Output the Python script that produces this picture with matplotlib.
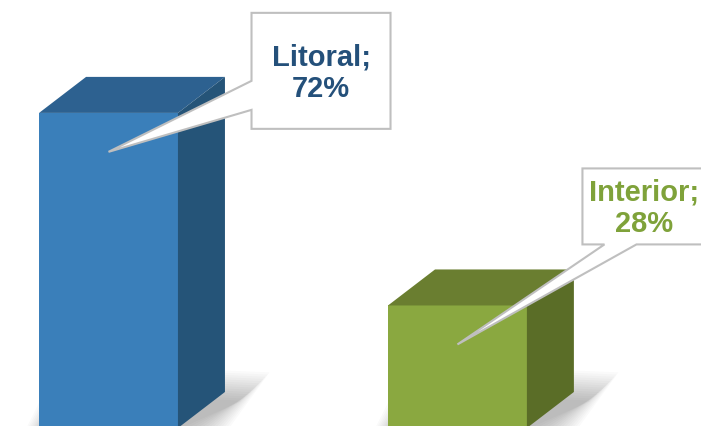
import matplotlib
matplotlib.use("Agg")
import matplotlib.pyplot as plt
from matplotlib.patches import Polygon

# data
categories = ["Litoral", "Interior"]
values = [72, 28]
labels = ["Litoral;\n72%", "Interior;\n28%"]

front_colors = ["#3a7fba", "#8aa840"]
top_colors = ["#2d6190", "#6a7e30"]
side_colors = ["#255478", "#5a6d27"]
text_colors = ["#24507a", "#7fa23a"]

fig = plt.figure(figsize=(7.01, 4.26), dpi=100)
ax = fig.add_axes([0, 0, 1, 1])
ax.set_xlim(-0.311, 1.698)
ax.set_ylim(0.46, 97.8)
ax.axis("off")

width = 0.398
dx = 0.1347   # depth in x units
dy = 8.23     # depth in y units

xs = list(range(len(values)))

for x, v, fc, tc, sc in zip(xs, values, front_colors, top_colors, side_colors):
    x0 = x - width / 2
    x1 = x + width / 2
    # soft shadow around the foot of the bar
    for k in range(14):
        e = 0.006 * k
        ey = 0.5 * k
        pts = [(x0 - e, -ey), (x1 + e + 0.01, -ey),
               (x1 + dx + e + 0.05, dy + ey - 2), (x0 + dx - e, dy + ey)]
        ax.add_patch(Polygon(pts, closed=True, facecolor="#000000",
                             edgecolor="none", alpha=0.018, zorder=1))
    ax.bar(x, v, width=width, color=fc, zorder=3)
    top = [(x0, v), (x1, v), (x1 + dx, v + dy), (x0 + dx, v + dy)]
    side = [(x1, 0), (x1 + dx, dy), (x1 + dx, v + dy), (x1, v)]
    ax.add_patch(Polygon(top, closed=True, facecolor=tc, edgecolor="none", zorder=3))
    ax.add_patch(Polygon(side, closed=True, facecolor=sc, edgecolor="none", zorder=3))

# callouts, offsets in pixels from the pointer tip
to_px = ax.transData
to_data = ax.transData.inverted()

callouts = [
    # box left, right, bottom, top ; wedge side and base ; text shift
    dict(box=(143, 282, 23, 139), wedge=("left", 42, 71), shift=0),
    dict(box=(125, 264, 100, 176), wedge=("bottom", 147, 179), shift=-8),
]

for x, v, lab, col, c in zip(xs, values, labels, text_colors, callouts):
    tx, ty = to_px.transform((x, v - 8.9))
    l, r, b, t = c["box"]
    side_, w1, w2 = c["wedge"]
    if side_ == "left":
        pts = [(l, t), (r, t), (r, b), (l, b), (l, w1), (0, 0), (l, w2)]
    else:
        pts = [(l, t), (r, t), (r, b), (w2, b), (0, 0), (w1, b), (l, b)]
    pts = [to_data.transform((tx + px, ty + py)) for px, py in pts]
    ax.add_patch(Polygon(pts, closed=True, facecolor="white", edgecolor="#bfbfbf",
                         linewidth=1.5, zorder=5, joinstyle="miter"))
    cx, cy = to_data.transform((tx + (l + r) / 2 + c["shift"], ty + (b + t) / 2 - 2))
    ax.text(cx, cy, lab, ha="center", va="center", fontsize=21, fontweight="bold",
            family=["Liberation Sans", "DejaVu Sans"], color=col,
            linespacing=1.15, zorder=6)

fig.savefig("out.png", dpi=100)
